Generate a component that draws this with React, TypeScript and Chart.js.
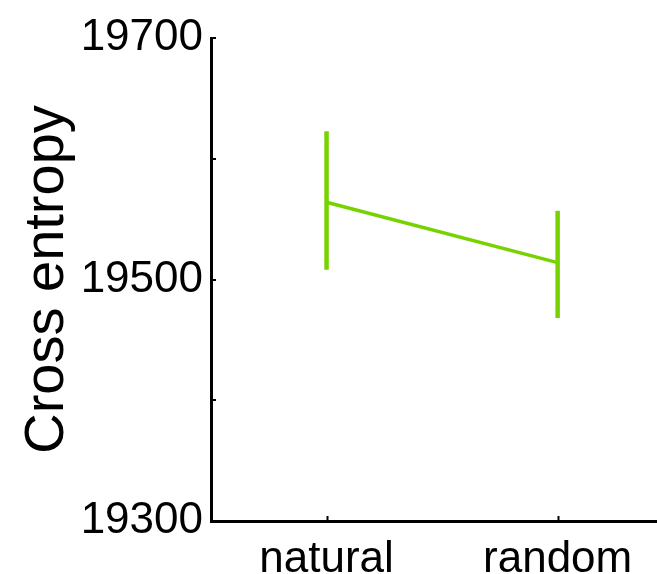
import React, { useEffect, useRef } from "react";
import { Chart, registerables } from "chart.js";

Chart.register(...registerables);

const categories = ["natural", "random"];
const means = [19564, 19514];
const upper = [19621, 19555];
const lower = [19510, 19470];
const yTickLabels = [19300, 19500, 19700];
const yAxisTitle = "Cross entropy";

const GREEN = "#76d300";

const inwardTicks = {
  id: "inwardTicks",
  afterDraw(chart: any) {
    const ctx = chart.ctx;
    const x = chart.scales.x;
    const y = chart.scales.y;
    ctx.save();
    ctx.strokeStyle = "#000";
    ctx.lineWidth = 2;
    y.ticks.forEach((t: any) => {
      const py = Math.round(y.getPixelForValue(t.value));
      ctx.beginPath();
      ctx.moveTo(x.left, py);
      ctx.lineTo(x.left + 5, py);
      ctx.stroke();
    });
    x.ticks.forEach((t: any) => {
      const px = Math.round(x.getPixelForValue(t.value)) + 0.5;
      ctx.beginPath();
      ctx.moveTo(px, y.bottom);
      ctx.lineTo(px, y.bottom - 5);
      ctx.stroke();
    });
    ctx.restore();
  },
};

export default function App() {
  const ref = useRef<HTMLCanvasElement>(null);
  useEffect(() => {
    const datasets: any[] = [
      {
        data: categories.map((_, i) => ({ x: i + 1, y: means[i] })),
        borderColor: GREEN,
        borderWidth: 3.5,
        pointRadius: 0,
        tension: 0,
      },
    ];
    categories.forEach((_, i) => {
      datasets.push({
        data: [
          { x: i + 1, y: lower[i] },
          { x: i + 1, y: upper[i] },
        ],
        borderColor: GREEN,
        borderWidth: 4.5,
        borderCapStyle: "square",
        pointRadius: 0,
      });
    });
    const chart = new Chart(ref.current!, {
      type: "line",
      data: { datasets },
      plugins: [inwardTicks],
      options: {
        animation: false,
        responsive: false,
        layout: { padding: { top: 38, right: 0, left: 0, bottom: 0 } },
        plugins: { legend: { display: false }, tooltip: { enabled: false } },
        scales: {
          x: {
            type: "linear",
            min: 0.5,
            max: 2.43,
            afterBuildTicks: (s: any) => {
              s.ticks = categories.map((_, i) => ({ value: i + 1 }));
            },
            afterFit: (s: any) => {
              s.height = 53;
            },
            ticks: {
              autoSkip: false,
              maxRotation: 0,
              color: "#000",
              padding: 4,
              font: { family: "Liberation Sans, Arial, sans-serif", size: 44 },
              callback: (v: any) => categories[Math.round(v) - 1] ?? "",
            },
            grid: { display: false },
            border: { display: true, color: "#000", width: 3 },
          },
          y: {
            type: "linear",
            min: 19300,
            max: 19700,
            ticks: {
              stepSize: 100,
              color: "#000",
              padding: 0,
              font: { family: "Liberation Sans, Arial, sans-serif", size: 44 },
              callback: (v: any) => (yTickLabels.includes(v) ? String(v) : ""),
            },
            afterFit: (s: any) => {
              s.width = 211;
            },
            grid: { display: false },
            border: { display: true, color: "#000", width: 3 },
            title: {
              display: true,
              text: yAxisTitle,
              color: "#000",
              padding: { top: 14, bottom: 0 },
              font: { family: "Liberation Sans, Arial, sans-serif", size: 56 },
            },
          },
        },
      },
    });
    return () => chart.destroy();
  }, []);
  return (
    <div style={{ position: "fixed", left: 0, top: 0, width: 657, height: 574, background: "#fff" }}>
      <canvas ref={ref} width={657} height={574} />
    </div>
  );
}
